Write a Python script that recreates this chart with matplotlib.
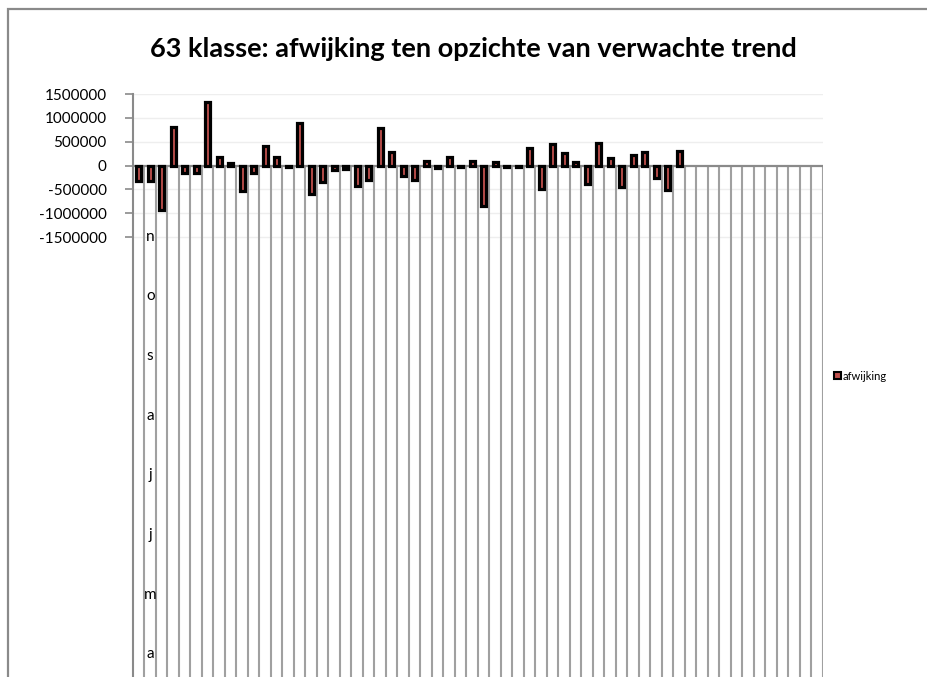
import matplotlib.pyplot as plt
import matplotlib.patches as mpatches
import numpy as np

# values (48 filled categories out of 60)
afwijking = [-320000, -330000, -930000, 800000, -150000, -160000, 1340000, 170000,
             50000, -530000, -160000, 410000, 170000, -30000, 890000, -590000,
             -350000, -100000, -80000, -440000, -300000, 790000, 290000, -230000,
             -310000, 90000, -60000, 170000, -30000, 100000, -840000, 70000,
             -40000, -30000, 370000, -500000, 455000, 270000, 75000, -390000,
             480000, 150000, -460000, 225000, 280000, -270000, -510000, 295000]
n_cat = 60
cat_labels = [''] * n_cat
cat_labels[1] = 'nosajjma'
yticks = [-1500000, -1000000, -500000, 0, 500000, 1000000, 1500000]

W, H = 928, 677
fig = plt.figure(figsize=(W / 100, H / 100), dpi=100)
fig.patch.set_facecolor('white')

# chart border (clipped at right/bottom like the screenshot)
fig.patches.append(mpatches.Rectangle((8 / W, -0.1), 1.2, 1 - 9 / H + 0.1,
                                      transform=fig.transFigure, fill=False,
                                      edgecolor='#8a8a8a', lw=1.6))

ax = fig.add_axes([133 / W, 0, 690 / W, 1 - 94 / H])
px = 3000000 / 143  # data units per pixel
ax.set_xlim(-0.5, n_cat - 0.5)
ax.set_ylim(1500000 - 583 * px, 1500000)

for y in yticks:
    if y != 0:
        ax.axhline(y, color='#eeeeee', lw=1, zorder=0)

xs = np.arange(len(afwijking))
ax.bar(xs, afwijking, width=0.42, color='#C0504D', edgecolor='black', lw=2.3, zorder=3)

ax.vlines(np.arange(n_cat) + 0.5, ax.get_ylim()[0], 0, color='#a0a0a0', lw=1.5, zorder=1)
ax.axhline(0, color='#8a8a8a', lw=1.6, zorder=2)

for s in ['top', 'right', 'bottom']:
    ax.spines[s].set_visible(False)
ax.spines['left'].set_color('#8a8a8a')
ax.spines['left'].set_linewidth(1.5)
ax.set_xticks([])
ax.set_yticks(yticks)
ax.set_yticklabels([str(v) for v in yticks], fontsize=11, family='Lato')
ax.tick_params(axis='y', length=6, color='#8a8a8a', width=1.2, pad=13)

# stacked (vertical) category label
for i, lab in enumerate(cat_labels):
    for k, ch in enumerate(lab):
        ax.text(i, -(71 + 59.7 * k) * px, ch, ha='center', va='center',
                fontsize=11, family='Lato', zorder=4)

fig.text(473 / W, 1 - 49 / H, '63 klasse: afwijking ten opzichte van verwachte trend',
         ha='center', va='center', fontsize=19.5, fontweight='bold', family='Lato')

handle = mpatches.Patch(facecolor='#C0504D', edgecolor='black', lw=1.5)
fig.legend([handle], ['afwijking'], loc='center left',
           bbox_to_anchor=(824 / W, 1 - 376 / H), frameon=False,
           prop={'family': 'Lato', 'size': 8}, handlelength=0.6, handleheight=0.6,
           handletextpad=0.2)

plt.savefig('out.png', dpi=100)
